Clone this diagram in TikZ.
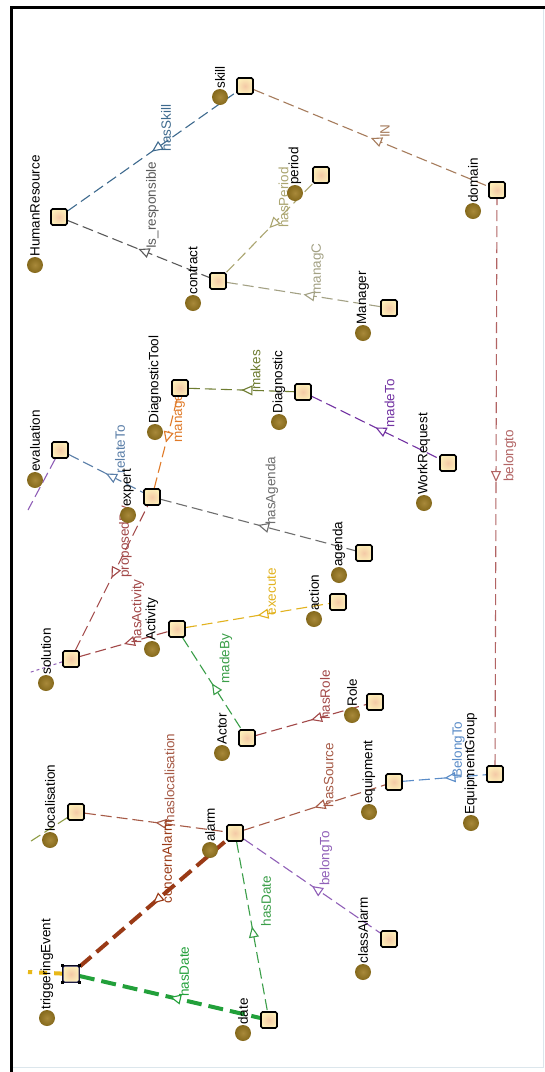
\documentclass[tikz,border=0pt]{standalone}
\usepackage{fontspec}
\setmainfont{Liberation Sans}
\usetikzlibrary{calc,arrows.meta,decorations.markings}
\pgfdeclarelayer{paper}
\pgfdeclarelayer{bg}
\pgfdeclarelayer{mid}
\pgfsetlayers{paper,bg,mid,main}
\definecolor{cBlue}{HTML}{3E6A8E}
\definecolor{cGray}{HTML}{5A5A5A}
\definecolor{cTan}{HTML}{A67C5C}
\definecolor{cKhaki}{HTML}{ABA570}
\definecolor{cOliveGray}{HTML}{A3A184}
\definecolor{cOlive}{HTML}{6E7C30}
\definecolor{cPurple}{HTML}{7232A2}
\definecolor{cOrange}{HTML}{E07A28}
\definecolor{cSteel}{HTML}{5A7EA8}
\definecolor{cGray2}{HTML}{6E6E6E}
\definecolor{cRed}{HTML}{A24848}
\definecolor{cGold}{HTML}{E2B21E}
\definecolor{cGreen}{HTML}{3A9E48}
\definecolor{cBrown}{HTML}{A65A46}
\definecolor{cBlue2}{HTML}{5A8CC8}
\definecolor{cRose}{HTML}{B26464}
\definecolor{cThickBrown}{HTML}{9A3A16}
\definecolor{cThickGreen}{HTML}{22A03A}
\definecolor{cLilac}{HTML}{9060B8}
\definecolor{cOliveFrag}{HTML}{8E9C44}
\definecolor{cYellow}{HTML}{E8B818}
\definecolor{cDotIn}{HTML}{A8893A}
\definecolor{cDotOut}{HTML}{85691C}
\definecolor{cSqIn}{HTML}{F4C9A6}
\definecolor{cSqOut}{HTML}{FCEDB8}
\definecolor{cNavy}{HTML}{1C1C5C}
\definecolor{cFrameLight}{HTML}{DCE6EC}
\tikzset{
  sq/.style={draw=black, line width=1.7pt, rounded corners=1.5pt, minimum size=16pt,
    inner sep=0pt, shading=radial, inner color=cSqIn, outer color=cSqOut},
  dot/.style={circle, minimum size=16pt, inner sep=0pt, shading=radial,
    inner color=cDotIn, outer color=cDotOut},
  clabel/.style={rotate=90, anchor=west, inner sep=0pt, text=black,
    font=\fontsize{13.5}{15}\selectfont},
  elabel/.style={rotate=90, anchor=west, inner sep=0pt,
    font=\fontsize{13.5}{15}\selectfont},
  rel/.style={draw=#1, line width=1.1pt, dash pattern=on 11pt off 5pt,
    postaction={decorate},
    decoration={markings, mark=at position 0.5 with
      {\arrowreversed[#1]{Triangle[fill=white, length=11pt, width=10pt, line width=1.1pt]}}}},
  thickrel/.style={line width=4pt, dash pattern=on 15pt off 7pt},
  frag/.style={draw=#1, line width=1.1pt, dash pattern=on 11pt off 5pt},
  handle/.style={fill=black, minimum size=3.2pt, inner sep=0pt}
}
\newcommand\ontoclass[6]{%
  \node[sq] (#1) at (#2,#3) {};
  \node[dot] (#1c) at (#4,#5) {};
  \node[clabel] (#1l) at (#1c.north) {#6};}
\newcommand\ontorel[5][]{%
  \begin{pgfonlayer}{bg}\draw[rel=#4,#1] (#2) -- (#3);\end{pgfonlayer}
  \begin{pgfonlayer}{mid}\node[elabel, text=#4] at ($(#2)!0.5!(#3)+(14,0)$) {#5};\end{pgfonlayer}}
\begin{document}
\begin{tikzpicture}[x=1pt, y=-1pt]
\useasboundingbox (0,0) rectangle (545,1072);
\begin{pgfonlayer}{paper}
\fill[white] (0,0) rectangle (545,1072);
% frame
\draw[cFrameLight, line width=1pt] (543,9) -- (543,1067) -- (13,1067);
\draw[black, line width=3pt] (11.5,1072) -- (11.5,7.5) -- (545,7.5);
\end{pgfonlayer}
% classes
\ontoclass{HumanResource}{59}{217}{35}{265}{HumanResource}
\ontoclass{skill}{245}{86}{220}{97}{skill}
\ontoclass{period}{321}{175}{295}{193}{period}
\ontoclass{domain}{497}{190}{473}{211}{domain}
\ontoclass{contract}{218}{281}{193}{303}{contract}
\ontoclass{Manager}{389}{308}{363}{333}{Manager}
\ontoclass{DiagnosticTool}{180}{388}{155}{432}{DiagnosticTool}
\ontoclass{Diagnostic}{303}{392}{279}{422}{Diagnostic}
\ontoclass{evaluation}{60}{450}{35}{480}{evaluation}
\ontoclass{expert}{152}{497}{128}{515}{expert}
\ontoclass{WorkRequest}{448}{463}{424}{503}{WorkRequest}
\ontoclass{agenda}{364}{553}{339}{575}{agenda}
\ontoclass{action}{338}{602}{314}{619}{action}
\ontoclass{Activity}{177}{629}{152}{649}{Activity}
\ontoclass{solution}{71}{659}{46}{683}{solution}
\ontoclass{Actor}{247}{738}{222}{753}{Actor}
\ontoclass{Role}{375}{702}{352}{715}{Role}
\ontoclass{equipment}{394}{782}{369}{812}{equipment}
\ontoclass{EquipmentGroup}{495}{774}{471}{823}{EquipmentGroup}
\ontoclass{localisation}{76}{812}{50}{840}{localisation}
\ontoclass{alarm}{235}{833}{210}{850}{alarm}
\ontoclass{triggeringEvent}{71}{974}{47}{1018}{triggeringEvent}
\ontoclass{date}{269}{1020}{243}{1033}{date}
\ontoclass{classAlarm}{389}{939}{363}{972}{classAlarm}
% selection of triggeringEvent
\node[sq, draw=cNavy, line width=1pt] (teSel) at (triggeringEvent) {};
\foreach \a in {north east, north west, south east, south west}
  \node[handle] (h-\a) at (teSel.\a) {};
% relations
\ontorel{HumanResource}{skill}{cBlue}{hasSkill}
\ontorel{HumanResource}{contract}{cGray}{Is\_responsible}
\ontorel{skill}{domain}{cTan}{IN}
\ontorel{contract}{period}{cKhaki}{hasPeriod}
\ontorel{contract}{Manager}{cOliveGray}{managC}
\ontorel{DiagnosticTool}{Diagnostic}{cOlive}{makes}
\ontorel{Diagnostic}{WorkRequest}{cPurple}{madeTo}
\ontorel{expert}{DiagnosticTool}{cOrange}{manage}
\ontorel{evaluation}{expert}{cSteel}{relateTo}
\ontorel{expert}{agenda}{cGray2}{hasAgenda}
\ontorel{solution}{expert}{cRed}{proposedBy}
\ontorel{solution}{Activity}{cRed}{hasActivity}
\ontorel{Activity}{action}{cGold}{execute}
\ontorel{Activity}{Actor}{cGreen}{madeBy}
\ontorel{Actor}{Role}{cRed}{hasRole}
\ontorel{alarm}{equipment}{cBrown}{hasSource}
\ontorel{equipment}{EquipmentGroup}{cBlue2}{BelongTo}
\ontorel{EquipmentGroup}{domain}{cRose}{belongto}
\ontorel{localisation}{alarm}{cBrown}{haslocalisation}
\ontorel[thickrel]{triggeringEvent}{alarm}{cThickBrown}{concernAlarm}
\ontorel[thickrel]{triggeringEvent}{date}{cThickGreen}{hasDate}
\ontorel{alarm}{date}{cGreen}{hasDate}
\ontorel{alarm}{classAlarm}{cLilac}{belongTo}
% fragments leaving the view
\coordinate (evalOut) at (28,510);
\coordinate (solOut) at (28,673);
\coordinate (locOut) at (28,843);
\coordinate (teOut) at (28,972);
\begin{pgfonlayer}{bg}
\draw[frag=cLilac] (evaluation) -- (evalOut);
\draw[draw=cLilac, line width=1pt, dash pattern=on 3pt off 3pt] (solution) -- (solOut);
\draw[frag=cOliveFrag] (localisation) -- (locOut);
\draw[draw=cYellow, line width=4pt, dash pattern=on 8pt off 7pt] (triggeringEvent) -- (teOut);
\end{pgfonlayer}
\end{tikzpicture}
\end{document}
